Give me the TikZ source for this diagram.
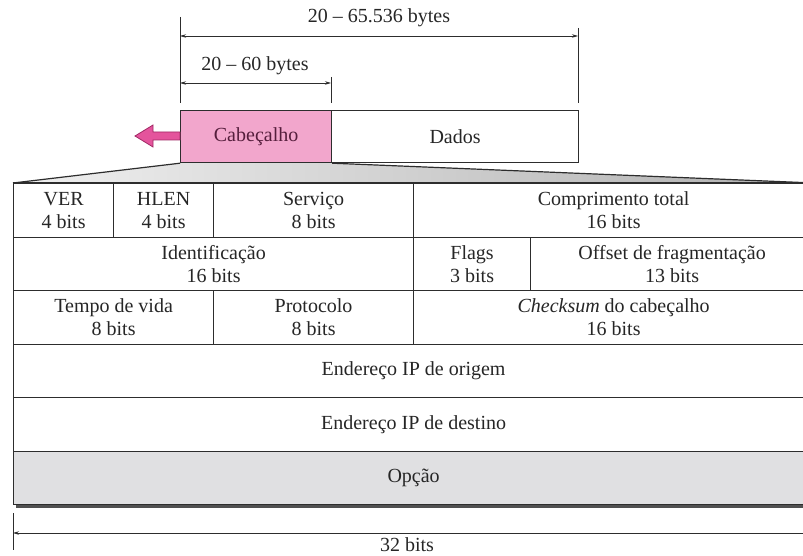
\documentclass[tikz,border=0pt]{standalone}
\usepackage{fontspec}
\setmainfont{Liberation Serif}
\usetikzlibrary{arrows.meta}
\definecolor{pinkfill}{RGB}{242,166,204}
\definecolor{pinkarrow}{RGB}{228,84,156}
\definecolor{pinkedge}{RGB}{160,40,100}
\definecolor{cabtext}{RGB}{85,30,60}
\definecolor{inkline}{RGB}{45,45,45}
\definecolor{optfill}{RGB}{224,224,226}
\definecolor{shadowgray}{RGB}{80,80,80}

\begin{document}
\begin{tikzpicture}[x=1pt,y=-1pt,
  font=\fontsize{20}{23}\selectfont,
  cell/.style={draw=inkline, line width=1.2pt, anchor=north west, inner sep=0pt,
               align=center, text=black!85, minimum height=53.5pt},
  pktbox/.style={draw=inkline, line width=1.2pt, anchor=north west, inner sep=0pt,
               minimum height=52pt},
  dim/.style={draw=inkline, line width=0.7pt,
              {Stealth[length=6pt,width=3.5pt]}-{Stealth[length=6pt,width=3.5pt]}},
  tickline/.style={draw=inkline, line width=0.8pt},
  dimlabel/.style={inner sep=0pt, text=black!85}]
\useasboundingbox (0,0) rectangle (803,556);
\clip (0,0) rectangle (803,556);

% datagram: header + payload
\node[pktbox, fill=pinkfill, minimum width=151pt, text=cabtext] (cab) at (180,110) {Cabeçalho};
\node[pktbox, minimum width=247pt, text=black!85] (dados) at (331,110) {Dados};

% arrow leaving the header
\draw[fill=pinkarrow, draw=pinkedge, line width=0.8pt]
  (cab.west |- 0,132) -- (153,132) -- (153,125) -- (135,136) -- (153,147) -- (153,140)
  -- (cab.west |- 0,140) -- cycle;

% size dimensions
\coordinate (tA0) at (180,17);  \coordinate (tA1) at (180,103);
\coordinate (tB0) at (578,28);  \coordinate (tB1) at (578,103);
\coordinate (tC0) at (331,77);  \coordinate (tC1) at (331,103);
\draw[tickline] (tA0) -- (tA1);
\draw[tickline] (tB0) -- (tB1);
\draw[tickline] (tC0) -- (tC1);
\coordinate (dA) at (180,36);  \coordinate (dB) at (578,36);
\coordinate (eA) at (180,83);  \coordinate (eC) at (331,83);
\draw[dim] (dA) -- (dB);
\draw[dim] (eA) -- (eC);
\node[dimlabel] (lbltotal) at (379,18) {20 \textendash{} 65.536 bytes};
\node[dimlabel] (lblhead) at (255,66) {20 \textendash{} 60 bytes};

% drop shadow of the header table
\fill[shadowgray] (16,187) rectangle (816,507.5);

% header fields, 32 bits per row
\node[cell, fill=white, minimum width=100pt] (ver)   at (13,183)  {VER\\4 bits};
\node[cell, fill=white, minimum width=100pt] (hlen)  at (113,183) {HLEN\\4 bits};
\node[cell, fill=white, minimum width=200pt] (serv)  at (213,183) {Serviço\\8 bits};
\node[cell, fill=white, minimum width=400pt] (comp)  at (413,183) {Comprimento total\\16 bits};

\node[cell, fill=white, minimum width=400pt] (ident) at (13,236.5)  {Identificação\\16 bits};
\node[cell, fill=white, minimum width=117pt] (flags) at (413,236.5) {Flags\\3 bits};
\node[cell, fill=white, minimum width=283pt] (offs)  at (530,236.5) {Offset de fragmentação\\13 bits};

\node[cell, fill=white, minimum width=200pt] (ttl)   at (13,290)  {Tempo de vida\\8 bits};
\node[cell, fill=white, minimum width=200pt] (proto) at (213,290) {Protocolo\\8 bits};
\node[cell, fill=white, minimum width=400pt] (chk)   at (413,290) {\textit{Checksum} do cabeçalho\\16 bits};

\node[cell, fill=white, minimum width=800pt] (src)   at (13,343.5) {Endereço IP de origem};
\node[cell, fill=white, minimum width=800pt] (dst)   at (13,397)   {Endereço IP de destino};
\node[cell, fill=optfill, minimum width=800pt] (opt) at (13,450.5) {Opção};

% expansion of the header into the table
\shade[left color=gray!12, right color=gray!62]
  (cab.south west) -- (cab.south east) -- (comp.north east) -- (ver.north west) -- cycle;
\draw[inkline, line width=1.2pt] (cab.south west) -- (ver.north west);
\draw[inkline, line width=1.2pt] (cab.south east) -- (comp.north east);
\draw[inkline, line width=1.2pt] (ver.north west) -- (comp.north east);

% width of the table
\coordinate (bT0) at (13,513); \coordinate (bT1) at (13,550);
\draw[tickline] (bT0) -- (bT1);
\coordinate (bA) at (13,533); \coordinate (bB) at (813,533);
\draw[dim] (bA) -- (bB);
\node[dimlabel] (lblbits) at (407,545) {32 bits};
\end{tikzpicture}
\end{document}
